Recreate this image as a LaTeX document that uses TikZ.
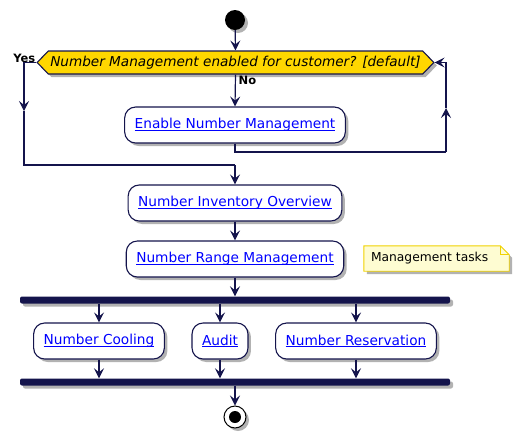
\documentclass[tikz,border=0pt]{standalone}
\usepackage{fontspec}
\setmainfont{DejaVu Sans}
\usetikzlibrary{arrows.meta, shapes.symbols, shadows}

\definecolor{umlnavy}{RGB}{20,20,76}
\definecolor{umlgold}{RGB}{255,215,0}
\definecolor{linkblue}{RGB}{0,0,255}
\definecolor{notefill}{RGB}{254,252,210}
\definecolor{noteline}{RGB}{240,210,0}

% link text, underlined just below the baseline as in the activity boxes
\newcommand{\lnk}[1]{\textcolor{linkblue}{\setbox0\hbox{#1}\rlap{\rule[-1.8pt]{\wd0}{0.7pt}}\box0}}

\begin{document}
\begin{tikzpicture}[
    x=1pt, y=-1pt,
    >={Stealth[length=10pt,width=10pt,inset=4pt]},
    flow/.style={draw=umlnavy, line width=1.2pt},
    shade/.style={drop shadow={shadow xshift=3pt, shadow yshift=-3pt, fill=black, opacity=0.3}},
    act/.style={draw=umlnavy, fill=white, line width=1.1pt, rounded corners=11pt,
        minimum height=36pt, inner xsep=10pt, font=\fontsize{13.7}{16}\selectfont, shade},
    decision/.style={signal, signal to=west and east, signal pointer angle=92,
        draw=umlnavy, fill=umlgold, line width=1.1pt, minimum height=23pt,
        inner xsep=2pt, font=\fontsize{13.6}{16}\selectfont\itshape, shade},
    bar/.style={fill=umlnavy, rounded corners=2pt, minimum width=430pt,
        minimum height=7pt, inner sep=0pt, shade},
    guard/.style={font=\fontsize{11.5}{13}\selectfont\bfseries, inner sep=1pt}
]
    \useasboundingbox (0,0) rectangle (519,437);

    % start and the first decision
    \node[circle, fill=black, minimum size=20pt, inner sep=0pt, shade] (start) at (235,20) {};
    \node[decision] (dec) at (235.5,62.5) {Number Management enabled for customer? [default]};
    \draw[flow,->] (start) -- (dec.north);

    \node[guard, anchor=south east] (yes) at ([yshift=-1pt]dec.west) {Yes};
    \node[guard, anchor=north west] (no) at ([xshift=2pt]dec.south) {No};

    % "No" branch loops back to the decision
    \node[act] (enable) at (235,125) {\lnk{Enable Number Management}};
    \draw[flow,->] (dec.south) -- (enable.north);
    \coordinate (loopbot) at (446,152);
    \coordinate (loopmid) at (446,108);
    \draw[flow] (enable.south) |- (loopbot);
    \draw[flow,->] (loopbot) -- (loopmid);
    \draw[flow,->] (loopmid) |- (dec.east);

    % "Yes" branch
    \coordinate (yesmid) at (24,111);
    \coordinate (merge) at (235,165);
    \draw[flow,->] (dec.west) -| (yesmid);
    \draw[flow] (yesmid) |- (merge);

    \node[act] (inventory) at (235,203) {\lnk{Number Inventory Overview}};
    \node[act] (range) at (235,259) {\lnk{Number Range Management}};
    \draw[flow,->] (merge) -- (inventory.north);
    \draw[flow,->] (inventory) -- (range);

    % note beside the range box
    \node[minimum height=25pt, minimum width=145pt] (note) at (436.5,258.5) {};
    \draw[draw=noteline, fill=notefill, line width=0.9pt, shade]
        (note.south west) -- (note.north west) -- ([xshift=-9pt]note.north east)
        -- ([yshift=-9pt]note.north east) -- (note.south east) -- cycle;
    \draw[draw=noteline, line width=0.9pt]
        ([xshift=-9pt]note.north east) |- ([yshift=-9pt]note.north east);
    \node[font=\fontsize{12.3}{14}\selectfont, anchor=west, inner sep=0pt] (notetext)
        at ([xshift=7pt]note.west) {Management tasks};

    % parallel tasks between fork and join
    \node[bar] (fork) at (235,300) {};
    \node[bar] (join) at (235,382) {};
    \draw[flow,->] (range) -- (fork);
    \foreach \nm/\x/\txt in {cool/99/Number Cooling, audit/220/Audit, resv/356/Number Reservation} {
        \node[act] (\nm) at (\x,341) {\lnk{\txt}};
        \draw[flow,->] (fork.south -| \nm) -- (\nm.north);
        \draw[flow,->] (\nm.south) -- (join.north -| \nm);
    }

    % end
    \node[circle, draw=black, fill=white, line width=1pt, minimum size=22pt, inner sep=0pt, shade] (stop) at (235,417) {};
    \node[circle, fill=black, minimum size=12pt, inner sep=0pt] (stopdot) at (stop) {};
    \draw[flow,->] (join) -- (stop);

\end{tikzpicture}
\end{document}
